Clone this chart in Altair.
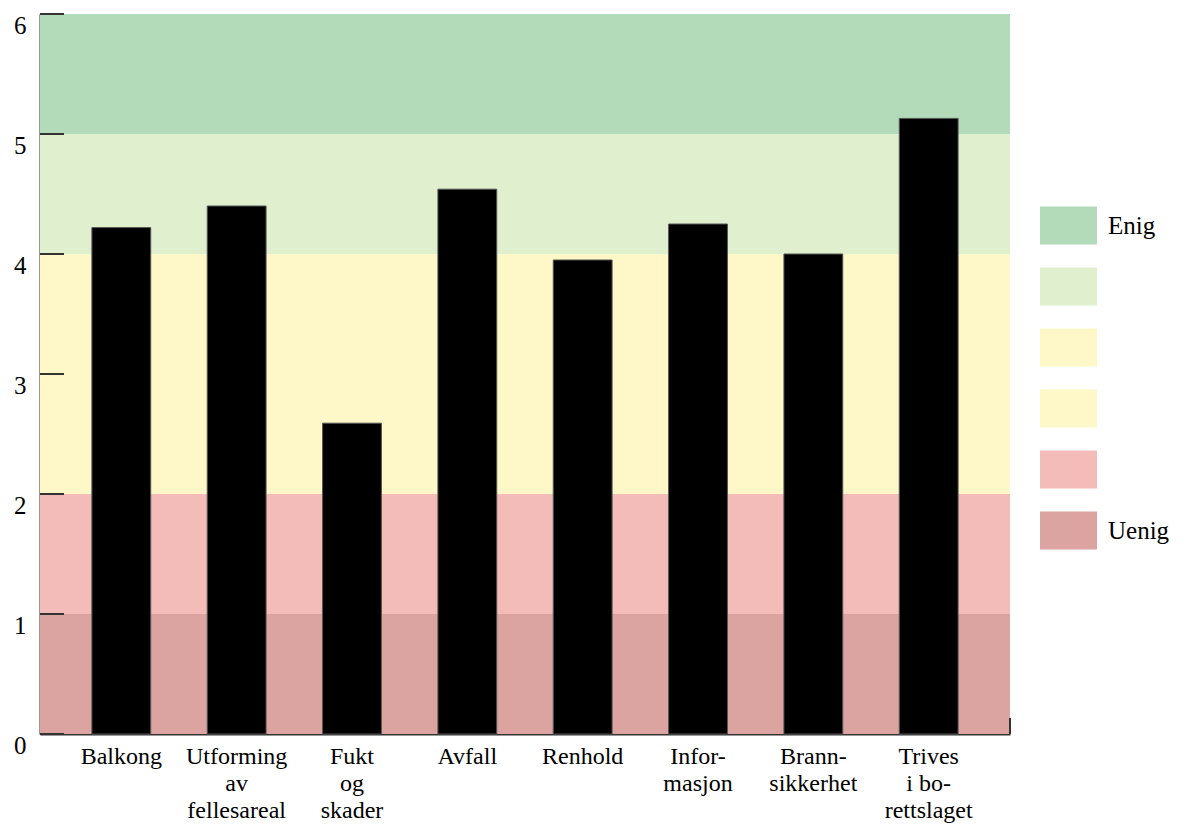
import altair as alt
import pandas as pd

categories = ["Balkong", "Utforming|av|fellesareal", "Fukt|og|skader", "Avfall",
              "Renhold", "Infor-|masjon", "Brann-|sikkerhet", "Trives|i bo-|rettslaget"]
values = [4.22, 4.40, 2.59, 4.54, 3.95, 4.25, 4.00, 5.13]

band_keys = ["k6", "k5", "k4", "k3", "k2", "k1"]
band_lo = [5, 4, 3, 2, 1, 0]
band_hi = [6, 5, 4, 3, 2, 1]
band_colors = ["#b3dbb9", "#e0f0cf", "#fef8c8", "#fef8c8", "#f4bcb8", "#dba4a0"]
y_ticks = [0, 1, 2, 3, 4, 5, 6]

FONT = "Liberation Serif"

bars_df = pd.DataFrame({"cat": categories, "val": values})
bands_df = pd.DataFrame({"key": band_keys, "lo": band_lo, "hi": band_hi})
ticks_df = pd.DataFrame({"t": y_ticks})

yscale = alt.Scale(domain=[0, 6], nice=False, zero=True)

bands = alt.Chart(bands_df).mark_rect().encode(
    y=alt.Y("lo:Q", scale=yscale,
            axis=alt.Axis(values=y_ticks, format="d", title=None, grid=False, ticks=False,
                          domainColor="#333333", domainWidth=2,
                          labelFont=FONT, labelFontSize=25, labelColor="#000000",
                          labelPadding=14, labelBaseline="top", labelOffset=-1)),
    y2="hi:Q",
    color=alt.Color("key:N",
                    scale=alt.Scale(domain=band_keys, range=band_colors),
                    legend=alt.Legend(
                        title=None, orient="none", legendX=1000, legendY=183,
                        padding=0, symbolType="M-1,-0.667H1V0.667H-1Z",
                        symbolSize=3249, symbolStrokeWidth=0, symbolOpacity=1,
                        rowPadding=13, labelOffset=11,
                        labelFont=FONT, labelFontSize=25, labelColor="#000000",
                        labelExpr="datum.value == 'k6' ? 'Enig' : (datum.value == 'k1' ? 'Uenig' : '')")),
)

bars = alt.Chart(bars_df).mark_bar(color="#000000", stroke="#555555", strokeWidth=1).encode(
    x=alt.X("cat:N", sort=categories,
            scale=alt.Scale(paddingInner=0.49, paddingOuter=0.45),
            axis=alt.Axis(title=None, labelAngle=0, ticks=False, domainColor="#333333",
                          domainWidth=2, labelFont=FONT, labelFontSize=24,
                          labelColor="#000000", labelPadding=10, labelBaseline="top",
                          labelLineHeight=27, labelOverlap=False, labelLimit=300,
                          labelExpr="split(datum.label, '|')")),
    y=alt.Y("val:Q", scale=yscale),
)

yticks = alt.Chart(ticks_df).mark_rule(color="#333333", strokeWidth=2).encode(
    y=alt.Y("t:Q", scale=yscale),
    x=alt.value(0),
    x2=alt.value(24),
)

end_tick = alt.Chart(ticks_df[ticks_df.t == 0]).mark_rule(color="#333333", strokeWidth=2).encode(
    y=alt.Y("t:Q", scale=yscale),
    y2=alt.value(704),
    x=alt.value(970),
)

chart = alt.layer(bands, bars, yticks, end_tick).properties(
    width=970, height=720,
    autosize=alt.AutoSizeParams(type="none"),
    padding={"left": 32, "top": 6, "right": 170, "bottom": 96},
).configure_view(stroke=None)

chart.save("out.html", embed_options={"renderer": "svg", "actions": False})
